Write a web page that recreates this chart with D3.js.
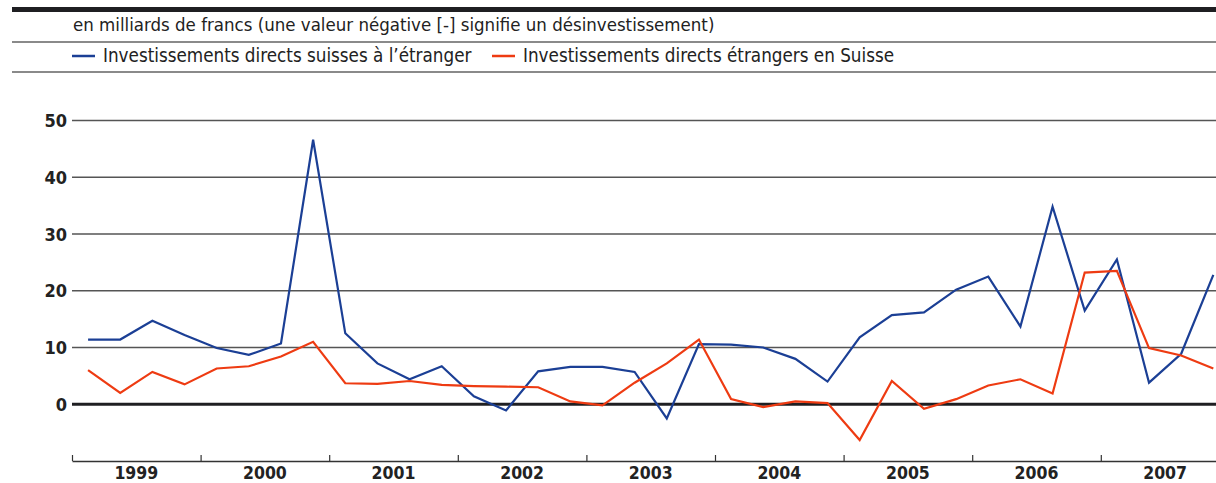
<!DOCTYPE html>
<html>
<head>
<meta charset="utf-8">
<script src="https://cdn.jsdelivr.net/npm/d3@7"></script>
<style>
  body { margin: 0; background: #fff; }
  svg { display: block; font-family: "DejaVu Sans Condensed", "DejaVu Sans", sans-serif; }
</style>
</head>
<body>
<div id="vis"></div>
<script>
const width = 1216;
const height = 483;

// Data (quarterly, 1999 Q1 - 2007 Q4), milliards de francs
const years = ["1999", "2000", "2001", "2002", "2003", "2004", "2005", "2006", "2007"];
const yTicks = [0, 10, 20, 30, 40, 50];
const seriesNames = ["Investissements directs suisses à l’étranger", "Investissements directs étrangers en Suisse"];
const outward = [11.4, 11.4, 14.7, 12.2, 9.9, 8.7, 10.7, 46.6, 12.5, 7.2, 4.4, 6.7,
  1.4, -1.1, 5.8, 6.6, 6.6, 5.7, -2.5, 10.6, 10.5, 10.0, 8.0, 4.0,
  11.8, 15.7, 16.2, 20.2, 22.5, 13.7, 34.8, 16.5, 25.5, 3.8, 8.9, 22.8];
const inward = [6.0, 2.0, 5.7, 3.5, 6.3, 6.7, 8.4, 11.0, 3.7, 3.6, 4.1, 3.4,
  3.2, 3.1, 3.0, 0.5, -0.2, 3.8, 7.2, 11.4, 0.9, -0.5, 0.5, 0.2,
  -6.3, 4.1, -0.8, 0.9, 3.3, 4.4, 1.9, 23.2, 23.5, 9.9, 8.6, 6.3];
const colors = ["#1b3f95", "#ee3b12"];

const svg = d3.select("#vis").append("svg")
  .attr("width", width)
  .attr("height", height);

// Header rules and texts
svg.append("rect").attr("x", 12).attr("y", 7).attr("width", width - 12).attr("height", 5).attr("fill", "#1f1f22");
svg.append("rect").attr("x", 12).attr("y", 41).attr("width", width - 12).attr("height", 2).attr("fill", "#8a8a8a");
svg.append("rect").attr("x", 12).attr("y", 71).attr("width", width - 12).attr("height", 2).attr("fill", "#8a8a8a");

svg.append("text")
  .attr("x", 73).attr("y", 31)
  .attr("font-size", 18.5).attr("fill", "#222")
  .text("en milliards de francs (une valeur négative [-] signifie un désinvestissement)");

const legend = svg.append("g");
const legX = [72, 492];
seriesNames.forEach((name, i) => {
  legend.append("line")
    .attr("x1", legX[i]).attr("x2", legX[i] + 23)
    .attr("y1", 56).attr("y2", 56)
    .attr("stroke", colors[i]).attr("stroke-width", 2.5);
  legend.append("text")
    .attr("x", legX[i] + 31).attr("y", 62)
    .attr("font-size", 18.7).attr("fill", "#222")
    .text(name);
});

// Scales
const x = d3.scaleLinear().domain([0, years.length * 4]).range([72, 72 + 36 * 32.15]);
const y = d3.scaleLinear().domain([-10, 50]).range([461, 120.5]);

// Gridlines
svg.append("g")
  .selectAll("line")
  .data(yTicks.filter(d => d !== 0))
  .join("line")
  .attr("x1", 72).attr("x2", width)
  .attr("y1", d => y(d)).attr("y2", d => y(d))
  .attr("stroke", "#555").attr("stroke-width", 1.3);

svg.append("line")
  .attr("x1", 72).attr("x2", width)
  .attr("y1", y(0)).attr("y2", y(0))
  .attr("stroke", "#1f1f22").attr("stroke-width", 3);

// Y labels
svg.append("g")
  .selectAll("text")
  .data(yTicks)
  .join("text")
  .attr("x", 67).attr("y", d => y(d) + 6.5)
  .attr("text-anchor", "end")
  .attr("font-size", 18).attr("font-weight", "bold").attr("fill", "#222")
  .text(d => d);

// X axis (year ticks pointing up)
const xAxis = svg.append("g")
  .attr("transform", `translate(0,${y(-10)})`)
  .call(d3.axisBottom(x).tickValues(d3.range(0, 37, 4)).tickSize(-6).tickSizeOuter(0).tickFormat(""));
xAxis.select(".domain").attr("stroke", "#333").attr("stroke-width", 1.5);
xAxis.selectAll(".tick line").attr("stroke", "#333").attr("stroke-width", 1.2);

svg.append("g")
  .selectAll("text")
  .data(years)
  .join("text")
  .attr("x", (d, i) => x(i * 4 + 2))
  .attr("y", 479)
  .attr("text-anchor", "middle")
  .attr("font-size", 17.5).attr("font-weight", "bold").attr("fill", "#222")
  .text(d => d);

// Lines
const line = d3.line()
  .x((d, i) => x(i + 0.5))
  .y(d => y(d));

[outward, inward].forEach((s, i) => {
  svg.append("path")
    .datum(s)
    .attr("d", line)
    .attr("fill", "none")
    .attr("stroke", colors[i])
    .attr("stroke-width", 2.2)
    .attr("stroke-linejoin", "miter");
});
</script>
</body>
</html>
